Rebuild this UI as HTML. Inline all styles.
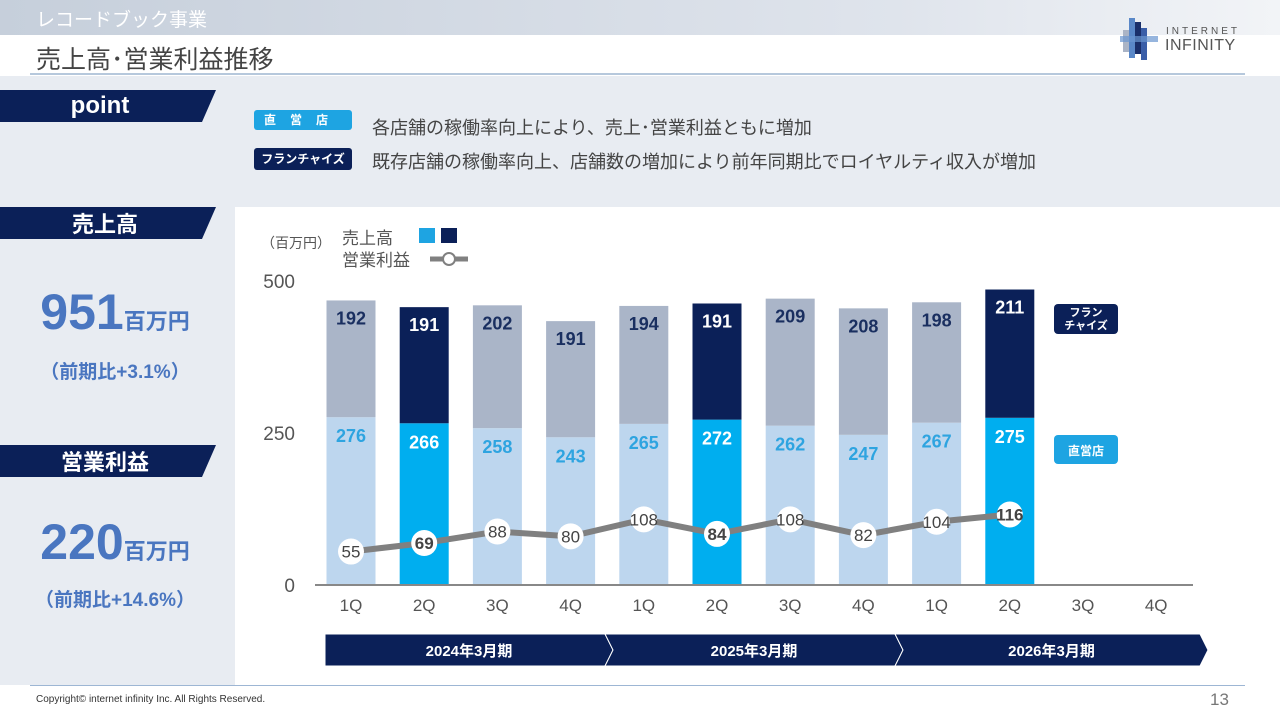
<!DOCTYPE html>
<html><head><meta charset="utf-8">
<style>
body{margin:0;width:1280px;height:720px;overflow:hidden;font-family:"Liberation Sans","Noto Sans CJK JP",sans-serif;background:#fff;position:relative}
.abs{position:absolute}
</style></head><body>
<div class="abs" style="left:0;top:0;width:1280px;height:35px;background:linear-gradient(90deg,#c6cfdb,#dfe4ec 70%,#f2f4f7)"></div>
<div class="abs" style="left:36px;top:5px;font-size:19px;color:#fff">レコードブック事業</div>
<div class="abs" style="left:36px;top:40px;font-size:25px;color:#444">売上高･営業利益推移</div>
<div class="abs" style="left:30px;top:73px;width:1215px;height:2px;background:#b6c8dc"></div>
<div class="abs" style="left:1120px;top:12px;width:130px;height:50px">
<svg width="40" height="50"><rect x="3" y="18" width="6" height="22" fill="#aab4c6"/><rect x="9" y="6" width="6" height="40" fill="#5a88c8"/><rect x="15" y="10" width="6" height="32" fill="#1a2f6a"/><rect x="21" y="16" width="6" height="32" fill="#3a5ea8"/><rect x="0" y="24" width="38" height="6" fill="#6a96d0" opacity=".7"/></svg>
<div class="abs" style="left:46px;top:14px;font-size:10px;letter-spacing:3px;color:#555">INTERNET</div>
<div class="abs" style="left:45px;top:25px;font-size:16px;color:#555;letter-spacing:.5px">INFINITY</div>
</div>
<div class="abs" style="left:0;top:76px;width:1280px;height:609px;background:#e8ecf2"></div>
<svg class="abs" style="left:0;top:90px" width="220" height="32"><polygon points="0,0 216,0 202,32 0,32" fill="#0b2058"/><text x="100" y="23" text-anchor="middle" fill="#fff" font-size="24" font-weight="bold" font-family="Liberation Sans,sans-serif">point</text></svg>
<div class="abs" style="left:254px;top:110px;width:98px;height:20px;background:#1ea4e2;border-radius:3px;color:#fff;font-size:12px;font-weight:bold;text-align:center;line-height:20px;letter-spacing:14px">直営店</div>
<div class="abs" style="left:372px;top:114px;font-size:18px;color:#444">各店舗の稼働率向上により、売上･営業利益ともに増加</div>
<div class="abs" style="left:254px;top:148px;width:98px;height:22px;background:#0b2058;border-radius:3px;color:#fff;font-size:12px;font-weight:bold;text-align:center;line-height:22px">フランチャイズ</div>
<div class="abs" style="left:372px;top:148px;font-size:18px;color:#444">既存店舗の稼働率向上、店舗数の増加により前年同期比でロイヤルティ収入が増加</div>
<svg class="abs" style="left:0;top:207px" width="220" height="32"><polygon points="0,0 216,0 202,32 0,32" fill="#0b2058"/><text x="105" y="25" text-anchor="middle" fill="#fff" font-size="22" font-weight="bold" font-family="Noto Sans CJK JP,sans-serif">売上高</text></svg>
<div class="abs" style="left:0;top:283px;width:230px;text-align:center;color:#4a76c0;font-weight:bold"><span style="font-size:50px">951</span><span style="font-size:22px">百万円</span></div>
<div class="abs" style="left:0;top:357px;width:230px;text-align:center;color:#4a76c0;font-weight:bold;font-size:19px">（前期比+3.1%）</div>
<svg class="abs" style="left:0;top:445px" width="220" height="32"><polygon points="0,0 216,0 202,32 0,32" fill="#0b2058"/><text x="105" y="25" text-anchor="middle" fill="#fff" font-size="22" font-weight="bold" font-family="Noto Sans CJK JP,sans-serif">営業利益</text></svg>
<div class="abs" style="left:0;top:513px;width:230px;text-align:center;color:#4a76c0;font-weight:bold"><span style="font-size:50px">220</span><span style="font-size:22px">百万円</span></div>
<div class="abs" style="left:0;top:585px;width:230px;text-align:center;color:#4a76c0;font-weight:bold;font-size:19px">（前期比+14.6%）</div>
<div class="abs" style="left:235px;top:207px;width:1045px;height:478px;background:#fff"></div>
<svg id="chart" class="abs" style="left:0;top:0" width="1280" height="720" font-family="Liberation Sans, Noto Sans CJK JP, sans-serif"></svg>
<div class="abs" style="left:30px;top:685px;width:1215px;height:1px;background:#9db6d4"></div>
<div class="abs" style="left:36px;top:694px;font-size:10px;color:#333">Copyright© internet infinity Inc. All Rights Reserved.</div>
<div class="abs" style="left:1210px;top:690px;font-size:17px;color:#777">13</div>
<script>
const quarters=["1Q","2Q","3Q","4Q","1Q","2Q","3Q","4Q","1Q","2Q","3Q","4Q"];
const franchise=[192,191,202,191,194,191,209,208,198,211];
const direct=[276,266,258,243,265,272,262,247,267,275];
const profit=[55,69,88,80,108,84,108,82,104,116];
const highlight=[false,true,false,false,false,true,false,false,false,true];
const yTicks=[0,250,500];
const periods=["2024年3月期","2025年3月期","2026年3月期"];
const NS="http://www.w3.org/2000/svg";
const svg=document.getElementById('chart');
const y=v=>585-v*0.608;
const xc=i=>351+i*73.2;
const BW=49;
function mk(t,a,txt){const e=document.createElementNS(NS,t);for(const k in a)e.setAttribute(k,a[k]);if(txt!==undefined)e.textContent=txt;svg.appendChild(e);return e;}
yTicks.forEach(v=>{const e=mk('text',{x:295,y:y(v)+7,'text-anchor':'end','font-size':19,fill:'#555'},v);

});
let e=mk('text',{x:261,y:248,'font-size':14,fill:'#555'},'（百万円）');

e=mk('text',{x:342,y:244,'font-size':17,fill:'#555'},'売上高');
e=mk('rect',{x:419,y:228,width:16,height:15,fill:'#1ea4e2'});
e=mk('rect',{x:441,y:228,width:16,height:15,fill:'#0b2058'});
e=mk('text',{x:342,y:266,'font-size':17,fill:'#555'},'営業利益');
e=mk('line',{x1:430,y1:259,x2:468,y2:259,stroke:'#808080','stroke-width':5});
e=mk('circle',{cx:449,cy:259,r:6,fill:'#fff',stroke:'#808080','stroke-width':2});
franchise.forEach((f,i)=>{
 const d=direct[i],h=highlight[i],x=xc(i)-BW/2;
 let r=mk('rect',{x:x,y:y(d),width:BW,height:y(0)-y(d),fill:h?'#00aeef':'#bdd6ee'});
 
 r=mk('rect',{x:x,y:y(d+f),width:BW,height:y(d)-y(d+f),fill:h?'#0b2058':'#aab5c8'});
 
 let t=mk('text',{x:xc(i),y:y(d+f)+24,'text-anchor':'middle','font-size':18,'font-weight':'bold',fill:h?'#fff':'#1a2f60'},f);
 
 t=mk('text',{x:xc(i),y:y(d)+25,'text-anchor':'middle','font-size':18,'font-weight':'bold',fill:h?'#fff':'#2ea4e0'},d);
 
});
e=mk('line',{x1:315,y1:585,x2:1193,y2:585,stroke:'#888','stroke-width':2});
quarters.forEach((q,i)=>{const t=mk('text',{x:xc(i),y:611,'text-anchor':'middle','font-size':17,fill:'#555'},q);
});
e=mk('polyline',{points:profit.map((v,i)=>xc(i)+','+y(v)).join(' '),fill:'none',stroke:'#808080','stroke-width':6});

profit.forEach((v,i)=>{
 let c=mk('circle',{cx:xc(i),cy:y(v),r:13,fill:'#fff'});
 
 let t=mk('text',{x:xc(i),y:y(v)+6,'text-anchor':'middle','font-size':17,fill:'#444',...(highlight[i]?{'font-weight':'bold'}:{})},v);
 
});
e=mk('rect',{x:1054,y:304,width:64,height:30,rx:4,fill:'#0b2058'});
e=mk('text',{x:1086,y:316,'text-anchor':'middle','font-size':11,'font-weight':'bold',fill:'#fff'},'フラン');
e=mk('text',{x:1086,y:329,'text-anchor':'middle','font-size':11,'font-weight':'bold',fill:'#fff'},'チャイズ');
e=mk('rect',{x:1054,y:435,width:64,height:29,rx:4,fill:'#1ea4e2'});
e=mk('text',{x:1086,y:455,'text-anchor':'middle','font-size':12,'font-weight':'bold',fill:'#fff'},'直営店');
const segs=[[325,605],[605,895],[895,1200]];
periods.forEach((p,i)=>{
 const [a,b]=segs[i],t=634,bt=666,m=650;
 const pts=i===0?`${a},${t} ${b},${t} ${b+8},${m} ${b},${bt} ${a},${bt}`:`${a},${t} ${b},${t} ${b+8},${m} ${b},${bt} ${a},${bt} ${a+8},${m}`;
 let pg=mk('polygon',{points:pts,fill:'#0b2058',stroke:'#fff','stroke-width':1});
 
 let tx=mk('text',{x:(a+b)/2+4,y:656,'text-anchor':'middle','font-size':15,'font-weight':'bold',fill:'#fff'},p);
 
});
</script>
</body></html>
